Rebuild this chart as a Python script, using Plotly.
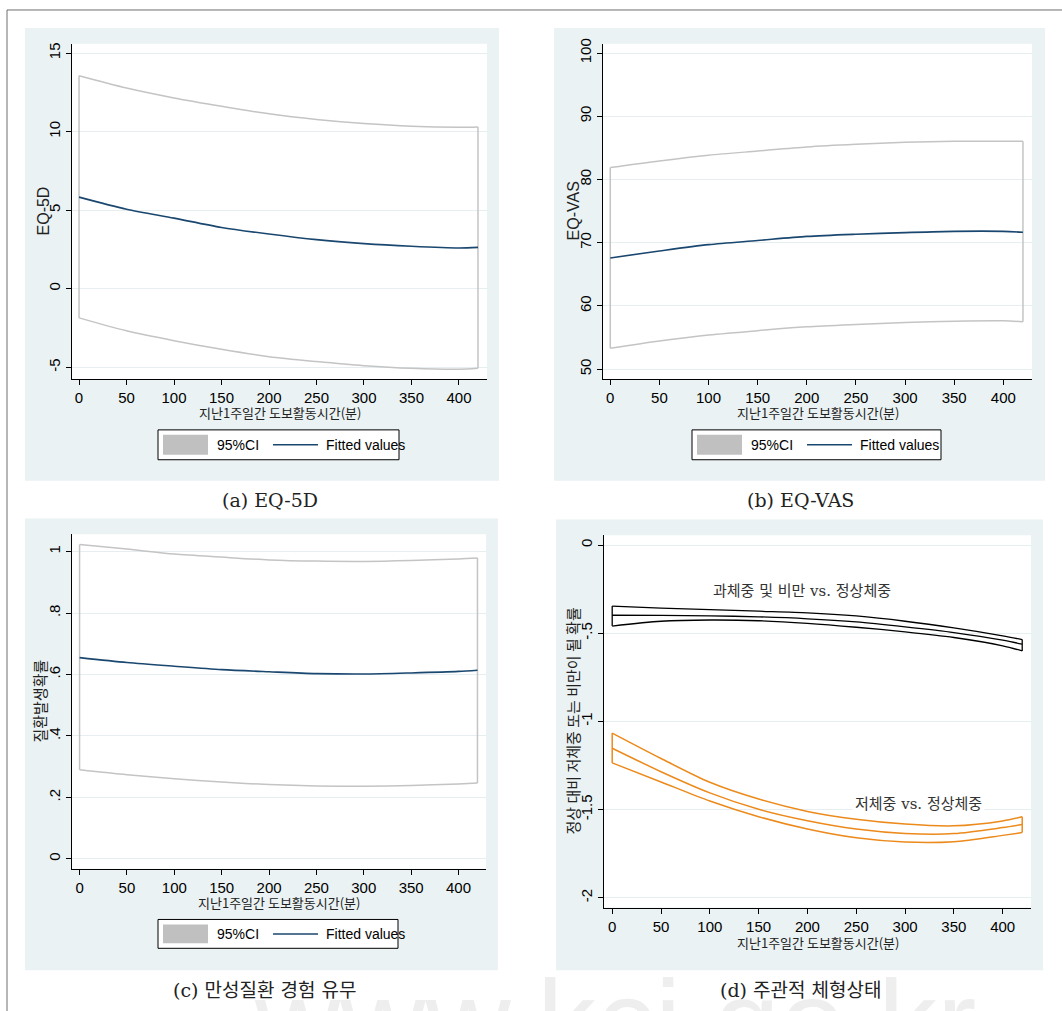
import plotly.graph_objects as go

# ---------------- data ----------------
minutes = [0, 50, 100, 150, 200, 250, 300, 350, 400, 420]
x_ticks = [0, 50, 100, 150, 200, 250, 300, 350, 400]
x_tick_labels = ["0", "50", "100", "150", "200", "250", "300", "350", "400"]

eq5d_fit = [5.83, 5.06, 4.49, 3.90, 3.48, 3.12, 2.87, 2.70, 2.59, 2.63]
eq5d_hi = [13.55, 12.77, 12.14, 11.61, 11.13, 10.77, 10.51, 10.34, 10.28, 10.30]
eq5d_lo = [-1.86, -2.68, -3.31, -3.86, -4.33, -4.64, -4.90, -5.07, -5.13, -5.07]
eq5d_y_ticks = [-5, 0, 5, 10, 15]
eq5d_y_labels = ["-5", "0", "5", "10", "15"]

vas_fit = [67.6, 68.7, 69.7, 70.35, 71.0, 71.35, 71.6, 71.8, 71.8, 71.67]
vas_hi = [81.9, 82.94, 83.84, 84.5, 85.15, 85.57, 85.88, 86.04, 86.04, 86.04]
vas_lo = [53.3, 54.45, 55.4, 56.1, 56.7, 57.08, 57.4, 57.6, 57.66, 57.5]
vas_y_ticks = [50, 60, 70, 80, 90, 100]
vas_y_labels = ["50", "60", "70", "80", "90", "100"]

chronic_fit = [0.655, 0.639, 0.627, 0.616, 0.609, 0.603, 0.6015, 0.605, 0.610, 0.614]
chronic_hi = [1.023, 1.008, 0.992, 0.982, 0.973, 0.969, 0.968, 0.971, 0.976, 0.979]
chronic_lo = [0.290, 0.274, 0.261, 0.250, 0.242, 0.2375, 0.2365, 0.2387, 0.244, 0.247]
chronic_y_ticks = [0, 0.2, 0.4, 0.6, 0.8, 1]
chronic_y_labels = ["0", ".2", ".4", ".6", ".8", "1"]

over_fit = [-0.398, -0.399, -0.401, -0.407, -0.418, -0.436, -0.464, -0.496, -0.539, -0.562]
over_hi = [-0.346, -0.357, -0.366, -0.375, -0.384, -0.402, -0.432, -0.470, -0.515, -0.536]
over_lo = [-0.459, -0.432, -0.425, -0.429, -0.444, -0.466, -0.492, -0.524, -0.571, -0.600]
under_fit = [-1.152, -1.285, -1.405, -1.498, -1.563, -1.610, -1.635, -1.636, -1.602, -1.585]
under_hi = [-1.066, -1.210, -1.345, -1.440, -1.510, -1.555, -1.582, -1.592, -1.564, -1.541]
under_lo = [-1.235, -1.343, -1.451, -1.540, -1.610, -1.660, -1.684, -1.682, -1.646, -1.630]
body_y_ticks = [-2, -1.5, -1, -0.5, 0]
body_y_labels = ["-2", "-1.5", "-1", "-.5", "0"]

x_title = "지난1주일간 도보활동시간(분)"
y_titles = ["EQ-5D", "EQ-VAS", "질환발생확률", "정상 대비 저체중 또는 비만이 될 확률"]
captions = ["(a) EQ-5D", "(b) EQ-VAS", "(c) 만성질환 경험 유무", "(d) 주관적 체형상태"]
legend_labels = ["95%CI", "Fitted values"]
group_labels = ["과체중 및 비만 vs. 정상체중", "저체중 vs. 정상체중"]
watermark = "www.kci.go.kr"

# ---------------- style ----------------
W, H = 1062, 1011
NAVY = "#1a476f"
CI_GRAY = "#c4c4c4"
SWATCH = "#c0c0c0"
ORANGE = "#ec8a1c"
PANEL_BG = "#eaf2f3"
GRID = "#e6eef0"
NUM_FONT = "Liberation Sans, Arial, sans-serif"
KR_FONT = "Noto Sans CJK KR, sans-serif"
SERIF = "DejaVu Serif, Liberation Serif, Noto Sans CJK KR, serif"


def fx(p):
    return p / W


def fy(p):
    return 1 - p / H


panels = [
    dict(plot=(72, 39, 487, 376), bg=(25, 23, 499, 478), xr=[-7.4, 429.5], yr=[-5.76, 15.59],
         yt=eq5d_y_ticks, yl=eq5d_y_labels, ytx=43, xty=410, cap=(270, 497),
         legend=(158, 427, 399, 457)),
    dict(plot=(603, 39, 1032, 376), bg=(554, 23, 1045, 478), xr=[-7.4, 429.2], yr=[48.43, 101.46],
         yt=vas_y_ticks, yl=vas_y_labels, ytx=573, xty=410, cap=(800, 497),
         legend=(692, 427, 941, 457)),
    dict(plot=(72, 532, 486, 868), bg=(25, 516, 498, 970), xr=[-8.0, 429.0], yr=[-0.032, 1.056],
         yt=chronic_y_ticks, yl=chronic_y_labels, ytx=40, xty=902, cap=(264, 990),
         legend=(158, 919, 398, 948)),
    dict(plot=(604, 533, 1031, 907), bg=(556, 517, 1043, 970), xr=[-8.4, 429.0], yr=[-2.055, 0.055],
         yt=body_y_ticks, yl=body_y_labels, ytx=572, xty=942, cap=(800, 990),
         legend=None),
]

fig = go.Figure()
shapes = []
annotations = []

# page frame
shapes.append(dict(type="line", xref="paper", yref="paper", x0=fx(7), y0=fy(5), x1=fx(7), y1=fy(1011),
                   line=dict(color="#6e6e6e", width=1), layer="below"))
shapes.append(dict(type="line", xref="paper", yref="paper", x0=fx(7), y0=fy(5), x1=fx(1062), y1=fy(5),
                   line=dict(color="#6e6e6e", width=1), layer="below"))

layout_axes = {}
for i, p in enumerate(panels):
    n = "" if i == 0 else str(i + 1)
    l, t, r, b = p["plot"]
    bl, bt, br, bb = p["bg"]
    shapes.append(dict(type="rect", xref="paper", yref="paper", x0=fx(bl), x1=fx(br), y0=fy(bb), y1=fy(bt),
                       fillcolor=PANEL_BG, line=dict(width=0), layer="below"))
    shapes.append(dict(type="rect", xref="paper", yref="paper", x0=fx(l), x1=fx(r), y0=fy(b), y1=fy(t),
                       fillcolor="white", line=dict(width=0), layer="below"))
    layout_axes["xaxis" + n] = dict(
        domain=[fx(l), fx(r)], range=p["xr"], anchor="y" + n,
        tickmode="array", tickvals=x_ticks, ticktext=x_tick_labels,
        showline=True, linecolor="black", linewidth=1, ticks="outside", ticklen=5,
        tickcolor="black", showgrid=False, zeroline=False,
        tickfont=dict(family=NUM_FONT, size=15, color="black"), fixedrange=True)
    layout_axes["yaxis" + n] = dict(
        domain=[fy(b), fy(t)], range=p["yr"], anchor="x" + n,
        tickmode="array", tickvals=p["yt"], ticktext=p["yl"], tickangle=-90,
        showline=True, linecolor="black", linewidth=1, ticks="outside", ticklen=5,
        tickcolor="black", showgrid=True, gridcolor=GRID, gridwidth=1, zeroline=False,
        tickfont=dict(family=NUM_FONT, size=15, color="black"), fixedrange=True)
    # axis titles
    annotations.append(dict(x=fx((l + r) / 2), y=fy(p["xty"]), xref="paper", yref="paper",
                            text=x_title, showarrow=False, xanchor="center", yanchor="middle",
                            font=dict(family=KR_FONT, size=13, color="#222")))
    yt_font = NUM_FONT if i < 2 else KR_FONT
    annotations.append(dict(x=fx(p["ytx"]), y=fy((t + b) / 2), xref="paper", yref="paper",
                            text=y_titles[i], showarrow=False, xanchor="center", yanchor="middle",
                            textangle=-90, font=dict(family=yt_font, size=16 if i < 2 else 15, color="#222")))
    # caption
    annotations.append(dict(x=fx(p["cap"][0]), y=fy(p["cap"][1]), xref="paper", yref="paper",
                            text=captions[i], showarrow=False, xanchor="center", yanchor="middle",
                            font=dict(family=SERIF, size=19, color="#222")))
    # legend
    if p["legend"]:
        gl, gt, gr, gb = p["legend"]
        cy = (gt + gb) / 2
        shapes.append(dict(type="rect", xref="paper", yref="paper", x0=fx(gl), x1=fx(gr), y0=fy(gb), y1=fy(gt),
                           fillcolor="white", line=dict(color="black", width=1), layer="above"))
        shapes.append(dict(type="rect", xref="paper", yref="paper", x0=fx(gl + 5), x1=fx(gl + 50),
                           y0=fy(gb - 5), y1=fy(gt + 5), fillcolor=SWATCH, line=dict(width=0), layer="above"))
        shapes.append(dict(type="line", xref="paper", yref="paper", x0=fx(gl + 115), x1=fx(gl + 160),
                           y0=fy(cy), y1=fy(cy), line=dict(color=NAVY, width=1.5), layer="above"))
        annotations.append(dict(x=fx(gl + 57), y=fy(cy), xref="paper", yref="paper", text=legend_labels[0],
                                showarrow=False, xanchor="left", yanchor="middle",
                                font=dict(family=NUM_FONT, size=14, color="black")))
        annotations.append(dict(x=fx(gl + 166), y=fy(cy), xref="paper", yref="paper", text=legend_labels[1],
                                showarrow=False, xanchor="left", yanchor="middle",
                                font=dict(family=NUM_FONT, size=14, color="black")))


def add_band(k, lo, hi, color, width):
    xa = "x" if k == 0 else "x" + str(k + 1)
    ya = "y" if k == 0 else "y" + str(k + 1)
    for ys in (hi, lo):
        fig.add_trace(go.Scatter(x=minutes, y=ys, mode="lines", xaxis=xa, yaxis=ya,
                                 line=dict(color=color, width=width, shape="spline", smoothing=0.8),
                                 hoverinfo="skip", showlegend=False))
    for j in (0, len(minutes) - 1):
        fig.add_trace(go.Scatter(x=[minutes[j], minutes[j]], y=[lo[j], hi[j]], mode="lines",
                                 xaxis=xa, yaxis=ya, line=dict(color=color, width=width),
                                 hoverinfo="skip", showlegend=False))


def add_line(k, ys, color, width):
    xa = "x" if k == 0 else "x" + str(k + 1)
    ya = "y" if k == 0 else "y" + str(k + 1)
    fig.add_trace(go.Scatter(x=minutes, y=ys, mode="lines", xaxis=xa, yaxis=ya,
                             line=dict(color=color, width=width, shape="spline", smoothing=0.8),
                             hoverinfo="skip", showlegend=False))


add_band(0, eq5d_lo, eq5d_hi, CI_GRAY, 1.5)
add_line(0, eq5d_fit, NAVY, 1.6)
add_band(1, vas_lo, vas_hi, CI_GRAY, 1.5)
add_line(1, vas_fit, NAVY, 1.6)
add_band(2, chronic_lo, chronic_hi, CI_GRAY, 1.5)
add_line(2, chronic_fit, NAVY, 1.6)
add_band(3, over_lo, over_hi, "black", 1.3)
add_line(3, over_fit, "black", 1.3)
add_band(3, under_lo, under_hi, ORANGE, 1.5)
add_line(3, under_fit, ORANGE, 1.5)

# group labels in panel (d)
annotations.append(dict(x=fx(802), y=fy(589), xref="paper", yref="paper", text=group_labels[0],
                        showarrow=False, xanchor="center", yanchor="middle",
                        font=dict(family=SERIF, size=15, color="#333")))
annotations.append(dict(x=fx(918), y=fy(803), xref="paper", yref="paper", text=group_labels[1],
                        showarrow=False, xanchor="center", yanchor="middle", bgcolor="white",
                        borderpad=2, font=dict(family=SERIF, size=15, color="#333")))

# watermark
annotations.append(dict(x=fx(615), y=fy(1022), xref="paper", yref="paper", text=watermark,
                        showarrow=False, xanchor="center", yanchor="middle",
                        font=dict(family="Liberation Sans, sans-serif", size=118, color="#eeeeee")))

fig.update_layout(
    width=W, height=H, autosize=False,
    margin=dict(l=0, r=0, t=0, b=0, pad=0),
    paper_bgcolor="white", plot_bgcolor="white",
    shapes=shapes, annotations=annotations, showlegend=False,
    **layout_axes,
)

fig.write_html("out.html", config={"displayModeBar": False, "staticPlot": True},
               post_script="document.body.style.margin='0';document.body.style.overflow='hidden';")
